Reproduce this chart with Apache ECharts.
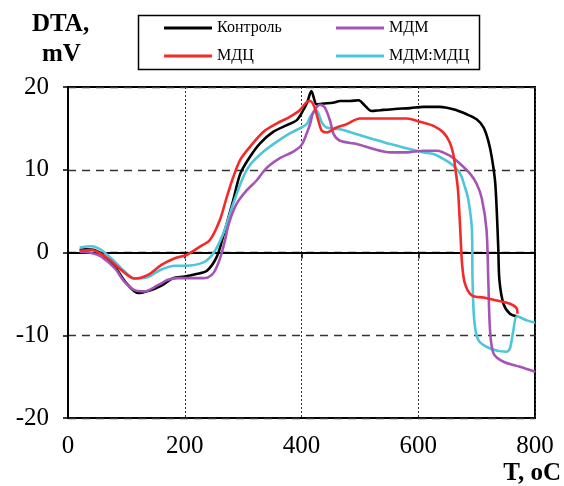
<!DOCTYPE html>
<html>
<head>
<meta charset="utf-8">
<script src="https://cdn.jsdelivr.net/npm/echarts@6/dist/echarts.min.js"></script>
<style>
html,body{margin:0;padding:0;background:#fff;}
#chart{width:564px;height:486px;}
</style>
</head>
<body>
<div id="chart"></div>
<script>
// ---- data ----
const seriesNames = ['Контроль', 'МДЦ', 'МДМ', 'МДМ:МДЦ'];

const controlT = [20,30,45,60,80,100,120,140,160,180,200,220,238,255,266,283,295,312,329,352,375,392,403,410,417,426,437,454,466,483,498,508,520,535,560,586,609,637,660,683,700,712,720,726,732,737,739,746,757,769];
const controlV = [0.3,0.4,0.3,-0.3,-1.7,-3.7,-4.9,-4.6,-4.0,-3.1,-2.9,-2.6,-2.2,-0.5,2.0,6.3,9.5,11.6,13.2,14.6,15.4,16.0,17.2,18.2,19.5,17.9,18.0,18.1,18.3,18.3,18.4,17.8,17.1,17.2,17.35,17.45,17.6,17.6,17.3,16.7,16.1,15.1,13.5,11.5,8.3,0.7,-3.3,-6.2,-7.4,-7.7];

const mdcT = [20,40,68,91,114,137,160,183,203,226,243,260,272,283,295,312,335,358,380,397,409,415,422,429,435,443,460,477,500,529,580,603,626,643,654,660,664,668,672,675,680,692,712,734,757,769,770];
const mdcV = [0.2,0.3,-0.7,-2.1,-3.15,-2.7,-1.5,-0.7,-0.3,0.7,1.5,3.9,6.7,9.1,11.2,12.8,14.6,15.6,16.4,17.2,18.2,18.3,17.6,15.9,14.7,14.5,15.1,15.5,16.2,16.2,16.2,15.8,15.3,14.5,13.3,11.9,9.9,7.6,2.7,-1.3,-3.75,-5.2,-5.45,-5.8,-6.2,-6.8,-7.4];

const mdmT = [20,40,57,80,97,114,131,154,171,188,206,228,240,250,260,268,276,289,306,323,340,363,386,400,409,415,420,432,440,449,455,466,495,523,552,580,609,632,654,672,689,700,709,717,720,723,729,746,774,800];
const mdmV = [0.1,-0.05,-0.5,-1.9,-3.55,-4.55,-4.7,-3.95,-3.3,-3.1,-3.1,-3.1,-3.0,-2.4,-0.8,1.2,3.6,5.9,7.5,8.7,10.2,11.4,12.2,13.0,14.4,15.6,16.9,17.85,17.5,15.9,14.3,13.5,13.1,12.5,12.1,12.1,12.3,12.3,11.7,10.7,9.5,8.3,6.5,2.7,-3.35,-9.4,-12.2,-13.2,-13.8,-14.4];

const mixT = [20,40,57,80,97,114,137,160,183,200,232,249,266,283,300,312,335,358,380,397,409,415,425,435,443,466,495,523,552,580,609,626,643,660,672,680,686,692,693,696,703,723,751,757,763,769,786,800];
const mixV = [0.6,0.75,0.3,-1.1,-2.3,-3.15,-2.95,-2.05,-1.6,-1.6,-1.2,-0.1,2.3,5.9,9.1,10.6,12.2,13.4,14.4,15.0,15.5,16.4,17.2,15.7,15.1,14.9,14.3,13.7,13.1,12.6,12.1,11.9,11.3,10.5,9.5,7.9,6.3,2.7,-3.3,-8.2,-10.6,-11.6,-12.0,-11.6,-9.4,-7.7,-8.2,-8.5];

const xTicks = [0, 200, 400, 600, 800];
const yTicks = [-20, -10, 0, 10, 20];

const colors = {
  'Контроль': '#000000',
  'МДЦ': '#f42a2a',
  'МДМ': '#a653b6',
  'МДМ:МДЦ': '#4dc6d9'
};

function pairs(t, v) { return t.map((x, i) => [x, v[i]]); }

const seriesData = {
  'Контроль': pairs(controlT, controlV),
  'МДЦ': pairs(mdcT, mdcV),
  'МДМ': pairs(mdmT, mdmV),
  'МДМ:МДЦ': pairs(mixT, mixV)
};

const drawOrder = ['Контроль', 'МДМ:МДЦ', 'МДМ', 'МДЦ'];

const chart = echarts.init(document.getElementById('chart'), null, {renderer: 'canvas'});
const serif = 'Liberation Serif, Times New Roman, serif';

const legendCommon = {
  orient: 'vertical',
  top: 15,
  itemWidth: 48,
  itemHeight: 3,
  itemGap: 12,
  icon: 'rect',
  textStyle: {fontFamily: serif, fontSize: 16, color: '#000', padding: [0,0,0,0]},
  selectedMode: false
};

chart.setOption({
  animation: false,
  backgroundColor: '#fff',
  grid: {left: 68, right: 29, top: 87, bottom: 68, show: true, borderColor: '#000', borderWidth: 2, backgroundColor: 'transparent'},
  legend: [
    Object.assign({}, legendCommon, {left: 159, data: ['Контроль', 'МДЦ']}),
    Object.assign({}, legendCommon, {left: 331, data: ['МДМ', 'МДМ:МДЦ']})
  ],
  graphic: [
    {type: 'rect', left: 136, top: 13, shape: {width: 341, height: 54}, style: {fill: 'none', stroke: '#000', lineWidth: 1.5}, silent: true},
    {type: 'text', left: 32, top: 12, style: {text: 'DTA,', font: 'bold 25px ' + serif, fill: '#000'}},
    {type: 'text', left: 42, top: 42, style: {text: 'mV', font: 'bold 25px ' + serif, fill: '#000'}},
    {type: 'text', right: 3, top: 461, style: {text: 'T, oC', font: 'bold 25px ' + serif, fill: '#000'}}
  ],
  xAxis: {
    type: 'value', min: xTicks[0], max: xTicks[xTicks.length - 1], interval: 200,
    axisLine: {show: true, lineStyle: {color: '#000', width: 2}},
    axisTick: {show: true, inside: false, length: 6, lineStyle: {color: '#000', width: 1.5}},
    axisLabel: {fontFamily: serif, fontSize: 25, color: '#000', margin: 16},
    splitLine: {show: true, lineStyle: {color: '#333', width: 1, type: [2, 2]}}
  },
  yAxis: {
    type: 'value', min: yTicks[0], max: yTicks[yTicks.length - 1], interval: 10,
    axisLine: {show: true, lineStyle: {color: '#000', width: 2}},
    axisTick: {show: true, inside: false, length: 5, lineStyle: {color: '#000', width: 1.5}},
    axisLabel: {fontFamily: serif, fontSize: 25, color: '#000', margin: 19},
    splitLine: {show: true, lineStyle: {color: '#333', width: 1.3, type: [8, 6]}}
  },
  series: drawOrder.map(name => ({
    name: name,
    type: 'line',
    data: seriesData[name],
    showSymbol: false,
    symbol: 'none',
    smooth: 0.3,
    color: colors[name],
    lineStyle: {color: colors[name], width: 2.6},
    itemStyle: {color: colors[name]},
    emphasis: {disabled: true}
  }))
});
</script>
</body>
</html>
